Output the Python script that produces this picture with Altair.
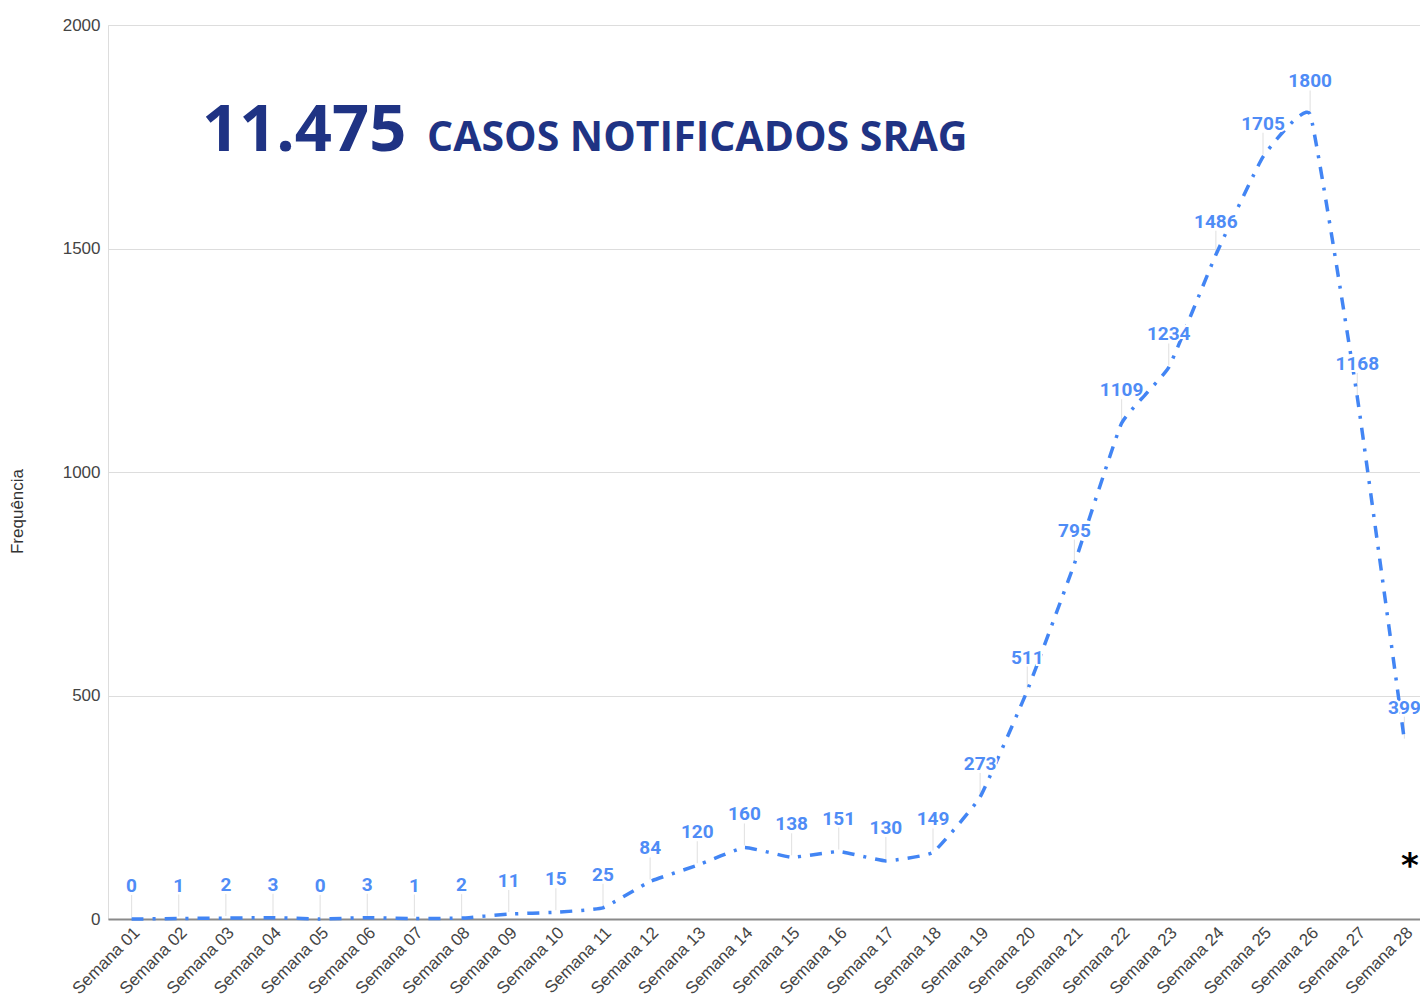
import altair as alt
import pandas as pd

weeks = [f"Semana {i:02d}" for i in range(1, 29)]
values = [0, 1, 2, 3, 0, 3, 1, 2, 11, 15, 25, 84, 120, 160, 138, 151, 130, 149,
          273, 511, 795, 1109, 1234, 1486, 1705, 1800, 1168, 399]
y_ticks = [0, 500, 1000, 1500, 2000]
headline_number = "11.475"
headline_text = "CASOS NOTIFICADOS SRAG"
footnote_mark = "*"

df = pd.DataFrame({"semana": weeks, "valor": values})

LINE = "#4285F4"
LABEL = "#4F8CF6"
NAVY = "#1F3384"

x = alt.X("semana:N", sort=weeks, title=None,
          scale=alt.Scale(type="band", range=[0, 1320], paddingInner=0, paddingOuter=0),
          axis=alt.Axis(labelAngle=-45, labelFontSize=17, labelColor="#444444",
                        labelFont="Arial", ticks=False, domainColor="#8a8a8a",
                        domainWidth=2, labelPadding=5, grid=False))
y = alt.Y("valor:Q", title="Frequência",
          scale=alt.Scale(domain=[0, 2000], nice=False),
          axis=alt.Axis(values=y_ticks, format="d", labelFontSize=17, labelColor="#444444",
                        labelFont="Arial", ticks=False, domain=False,
                        gridColor="#dddddd", gridWidth=1.2, labelPadding=8,
                        titleFontSize=17, titleFont="Arial", titleColor="#333333",
                        titleFontWeight="normal", titleX=-82, titleY=486,
                        titleAlign="center", titleBaseline="bottom"))

base = alt.Chart(df)

leaders = base.mark_rule(color="#e4e4e4", strokeWidth=1.2, yOffset=-2, y2Offset=-24).encode(
    x=x, y=y, y2=alt.Y2("valor:Q"))

line = base.mark_line(color=LINE, strokeWidth=3.5, strokeDash=[12, 9, 3, 9],
                      interpolate="cardinal", tension=0.68).encode(x=x, y=y)

halo = base.mark_text(color="white", stroke="white", strokeWidth=4, fontSize=19,
                      fontWeight="bold", font="Roboto", dy=-33, baseline="middle").encode(
    x=x, y=y, text=alt.Text("valor:Q"))

labels = base.mark_text(color=LABEL, fontSize=19, fontWeight="bold", font="Roboto",
                        dy=-33, baseline="middle").encode(
    x=x, y=y, text=alt.Text("valor:Q"))

head1 = alt.Chart(pd.DataFrame({"t": [headline_number]})).mark_text(
    font="Open Sans", fontWeight="bold", fontSize=65, color=NAVY,
    align="left", baseline="alphabetic").encode(
    x=alt.value(94), y=alt.value(126), text="t:N")

head2 = alt.Chart(pd.DataFrame({"t": [headline_text]})).mark_text(
    font="Open Sans", fontWeight="bold", fontSize=41, color=NAVY,
    align="left", baseline="alphabetic").encode(
    x=alt.value(319), y=alt.value(126), text="t:N")

star = alt.Chart(pd.DataFrame({"t": [footnote_mark]})).mark_text(
    font="DejaVu Sans", fontWeight="bold", fontSize=34, color="#000000",
    align="center", baseline="middle").encode(
    x=alt.value(1302), y=alt.value(842), text="t:N")

chart = alt.layer(leaders, line, halo, labels, head1, head2, star).properties(
    width=1312, height=894,
    autosize=alt.AutoSizeParams(type="none"),
    padding={"left": 100, "top": 17, "right": 0, "bottom": 78},
).configure_view(stroke=None).configure(background="white")

chart.save("out.html", embed_options={"renderer": "svg", "actions": False})
